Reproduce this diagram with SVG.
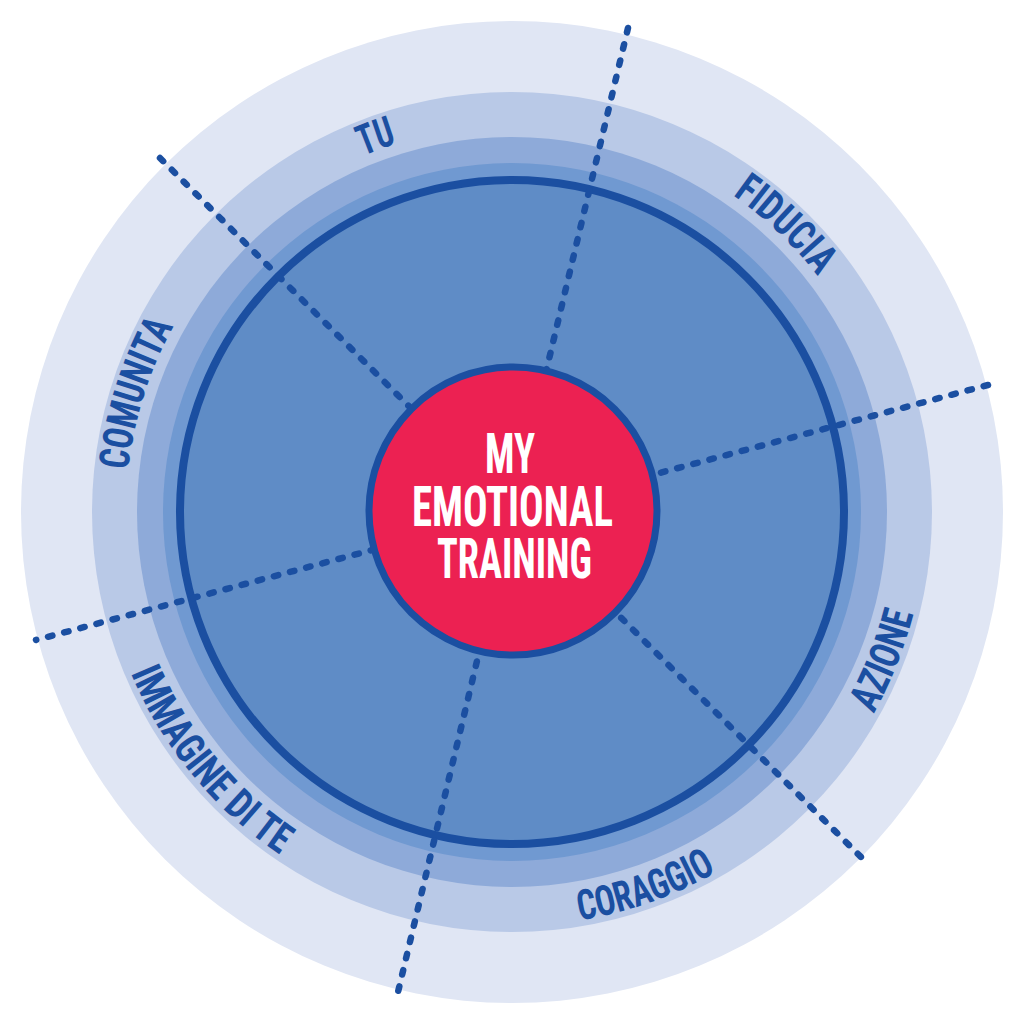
<svg xmlns="http://www.w3.org/2000/svg" width="1024" height="1024" viewBox="0 0 1024 1024">
<style>
.lbl{font-family:"Liberation Sans Narrow","Roboto Condensed","Liberation Sans",sans-serif;font-weight:bold;font-size:42px;fill:#1b4fa1}
.ctr{font-family:"Liberation Sans Narrow","Roboto Condensed","Liberation Sans",sans-serif;font-weight:bold;font-size:56px;fill:#ffffff;text-anchor:middle}
.dash{stroke:#1b4fa1;stroke-width:6.5;stroke-linecap:round;stroke-dasharray:4.5 12.2;fill:none}
</style>
<defs>
<path id="pTU" d="M131.9,445.0 A386,386 0 0 1 760.1,216.3"/>
<path id="pFID" d="M403.0,141.7 A386,386 0 0 1 887.2,602.8"/>
<path id="pCOM" d="M227.4,772.8 A386,386 0 0 1 428.5,135.1"/>
<path id="pAZI" d="M571.8,921.7 A414,414 0 0 0 836.9,255.4"/>
<path id="pCOR" d="M243.1,826.8 A414,414 0 0 0 919.1,587.4"/>
<path id="pIMM" d="M121.5,374.5 A414,414 0 0 0 588.2,918.9"/>
</defs>
<rect width="1024" height="1024" fill="#ffffff"/>
<g id="rings">
<circle cx="512" cy="512" r="491" fill="#e0e6f4"/>
<circle cx="512" cy="512" r="420" fill="#b9c9e7"/>
<circle cx="512" cy="512" r="375" fill="#8eaad9"/>
<circle cx="512" cy="512" r="349" fill="#7099d1"/>
<circle cx="512" cy="512" r="332" fill="#5f8cc6" stroke="#1b4fa1" stroke-width="8"/>
</g>
<g id="connectors">
<line class="dash" x1="160" y1="158" x2="866" y2="862"/>
<line class="dash" x1="628" y1="28" x2="398" y2="992"/>
<line class="dash" x1="988" y1="385" x2="36" y2="640"/>
</g>
<g id="center">
<circle cx="513" cy="511" r="144" fill="#ec2152" stroke="#1b4fa1" stroke-width="7"/>
<text class="ctr"><tspan x="510" y="473" textLength="50" lengthAdjust="spacingAndGlyphs">MY</tspan><tspan x="512.5" y="526" textLength="201" lengthAdjust="spacingAndGlyphs">EMOTIONAL</tspan><tspan x="514.5" y="578" textLength="155" lengthAdjust="spacingAndGlyphs">TRAINING</tspan></text>
</g>
<g id="label-tu"><text class="lbl"><textPath href="#pTU" startOffset="50%" text-anchor="middle" textLength="36" lengthAdjust="spacingAndGlyphs">TU</textPath></text></g>
<g id="label-fiducia"><text class="lbl"><textPath href="#pFID" startOffset="50%" text-anchor="middle" textLength="118" lengthAdjust="spacingAndGlyphs">FIDUCIA</textPath></text></g>
<g id="label-azione"><text class="lbl"><textPath href="#pAZI" startOffset="50%" text-anchor="middle" textLength="108" lengthAdjust="spacingAndGlyphs">AZIONE</textPath></text></g>
<g id="label-coraggio"><text class="lbl"><textPath href="#pCOR" startOffset="50%" text-anchor="middle" textLength="146" lengthAdjust="spacingAndGlyphs">CORAGGIO</textPath></text></g>
<g id="label-immagine"><text class="lbl"><textPath href="#pIMM" startOffset="49%" text-anchor="middle" textLength="238" lengthAdjust="spacingAndGlyphs">IMMAGINE DI TE</textPath></text></g>
<g id="label-comunita"><text class="lbl"><textPath href="#pCOM" startOffset="50%" text-anchor="middle" textLength="152" lengthAdjust="spacingAndGlyphs">COMUNITA</textPath></text></g>
</svg>
